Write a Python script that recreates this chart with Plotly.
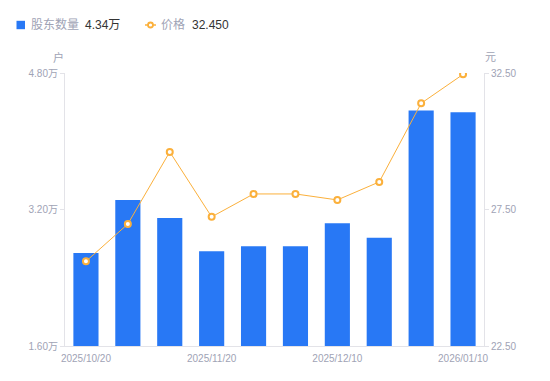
import plotly.graph_objects as go

dates = ["2025/10/20", "2025/10/31", "2025/11/10", "2025/11/20", "2025/11/28",
         "2025/11/30", "2025/12/10", "2025/12/20", "2025/12/31", "2026/01/10"]
holders = [2.69, 3.31, 3.10, 2.71, 2.77, 2.77, 3.04, 2.87, 4.36, 4.34]  # 万户
price = [25.60, 26.97, 29.61, 27.23, 28.07, 28.07, 27.85, 28.51, 31.39, 32.45]
xtick_vals = ["2025/10/20", "2025/11/20", "2025/12/10", "2026/01/10"]
left_ticks = [1.6, 3.2, 4.8]
right_ticks = [22.5, 27.5, 32.5]

BLUE = "#2878F5"
ORANGE = "#FBB03B"
GRAY = "#A0A3B5"
AXIS = "#E3E3E8"
FONT = "Liberation Sans, Noto Sans CJK SC, sans-serif"

fig = go.Figure()
fig.add_trace(go.Bar(x=dates, y=holders, marker=dict(color=BLUE, line=dict(width=0)),
                     width=0.6, name="股东数量", yaxis="y"))
fig.add_trace(go.Scatter(x=dates, y=price, mode="lines+markers", name="价格", yaxis="y2",
                         line=dict(color=ORANGE, width=1),
                         marker=dict(symbol="circle", size=6, color="white",
                                     line=dict(color=ORANGE, width=2))))

fig.update_layout(
    width=550, height=381,
    margin=dict(l=65, r=66, t=73, b=35),
    paper_bgcolor="white", plot_bgcolor="white",
    showlegend=False,
    font=dict(family=FONT, size=10, color=GRAY),
    xaxis=dict(type="category", tickmode="array", tickvals=xtick_vals, ticktext=xtick_vals,
               range=[-0.5, len(dates) - 0.5],
               showline=True, linecolor=AXIS, linewidth=1,
               ticks="outside", ticklen=3, tickcolor="rgba(0,0,0,0)", showgrid=False,
               tickfont=dict(size=10, color=GRAY)),
    yaxis=dict(range=[1.6, 4.8], tickvals=left_ticks,
               ticktext=[f"{v:.2f}万" for v in left_ticks],
               showline=True, linecolor=AXIS, linewidth=1, ticks="outside", ticklen=4,
               tickcolor=AXIS, showgrid=False, zeroline=False,
               tickfont=dict(size=10, color=GRAY)),
    yaxis2=dict(range=[22.5, 32.5], tickvals=right_ticks,
                ticktext=[f"{v:.2f}" for v in right_ticks],
                overlaying="y", side="right",
                showline=True, linecolor=AXIS, linewidth=1, ticks="outside", ticklen=4,
                tickcolor=AXIS, showgrid=False, zeroline=False,
                tickfont=dict(size=10, color=GRAY)),
    bargap=0.4,
)

pw, ph = 550 - 65 - 66, 381 - 73 - 35
def px(x):
    return (x - 65) / pw
def py(y):
    return (381 - 35 - y) / ph

# unit labels
fig.add_annotation(xref="paper", yref="paper", x=px(58), y=py(57), text="户", showarrow=False,
                   font=dict(size=11, color=GRAY), xanchor="center", yanchor="middle")
fig.add_annotation(xref="paper", yref="paper", x=px(490), y=py(57), text="元", showarrow=False,
                   font=dict(size=11, color=GRAY), xanchor="center", yanchor="middle")

# custom legend
LY = 25
fig.add_shape(type="rect", xref="paper", yref="paper",
              x0=px(16.5), x1=px(25), y0=py(LY + 4.2), y1=py(LY - 4.2),
              fillcolor=BLUE, line=dict(width=0))
fig.add_annotation(xref="paper", yref="paper", x=px(29), y=py(LY), xanchor="left", yanchor="middle",
                   text="股东数量", showarrow=False, font=dict(size=12, color=GRAY))
fig.add_annotation(xref="paper", yref="paper", x=px(83), y=py(LY), xanchor="left", yanchor="middle",
                   text=f"{holders[-1]:.2f}万", showarrow=False, font=dict(size=12, color="#333333"))
fig.add_shape(type="line", xref="paper", yref="paper",
              x0=px(145), x1=px(156), y0=py(LY), y1=py(LY),
              line=dict(color=ORANGE, width=1.5))
fig.add_shape(type="circle", xref="paper", yref="paper",
              x0=px(148), x1=px(153), y0=py(LY + 2.5), y1=py(LY - 2.5),
              fillcolor="white", line=dict(color=ORANGE, width=1.8))
fig.add_annotation(xref="paper", yref="paper", x=px(159), y=py(LY), xanchor="left", yanchor="middle",
                   text="价格", showarrow=False, font=dict(size=12, color=GRAY))
fig.add_annotation(xref="paper", yref="paper", x=px(190), y=py(LY), xanchor="left", yanchor="middle",
                   text=f"{price[-1]:.3f}", showarrow=False, font=dict(size=12, color="#333333"))

fig.write_html("out.html", config={"displayModeBar": False},
               post_script="document.body.style.margin='0';document.body.style.overflow='hidden';")
